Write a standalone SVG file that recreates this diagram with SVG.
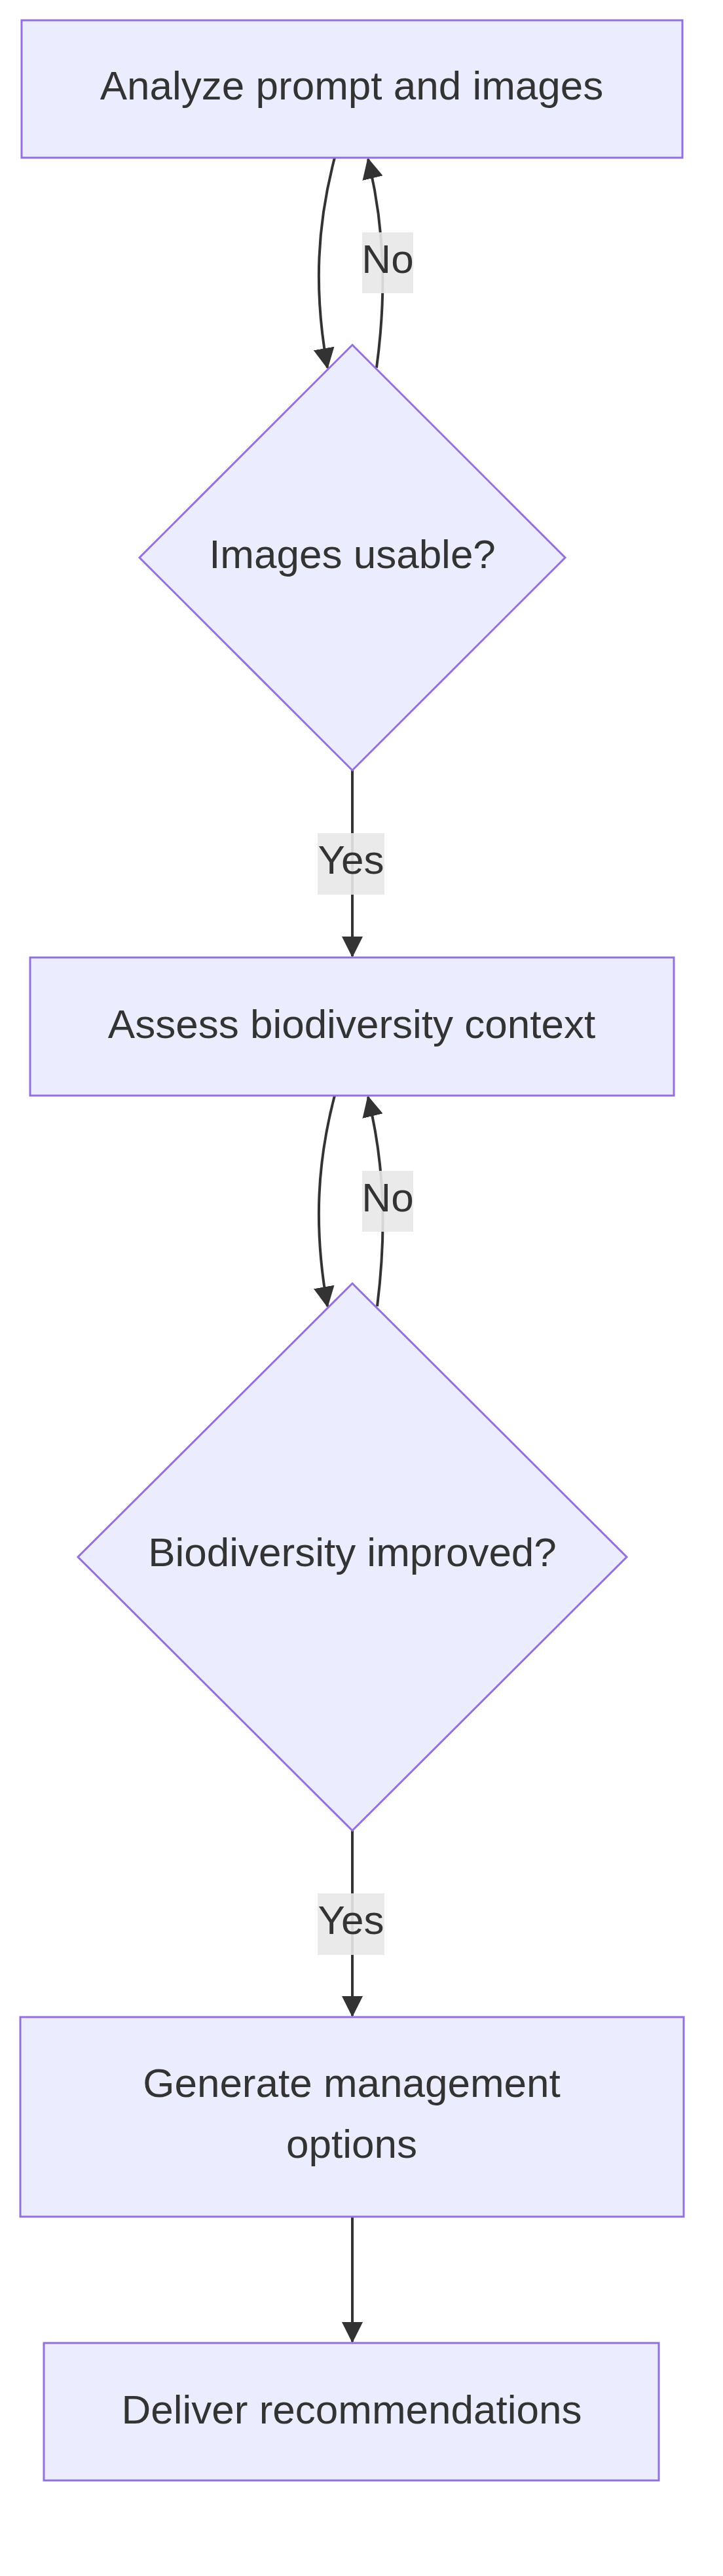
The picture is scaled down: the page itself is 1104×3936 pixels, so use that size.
<svg xmlns="http://www.w3.org/2000/svg" width="1104" height="3936" viewBox="0 0 1104 3936">
<style>
.n{fill:#ECECFF;stroke:#9370DB;stroke-width:3}
.t{font-family:"Liberation Sans",Arial,sans-serif;font-size:62px;fill:#333;text-anchor:middle}
.e{fill:none;stroke:#333;stroke-width:4}
.lb{fill:#e8e8e8;opacity:0.9}
</style>
<defs>
<marker id="ah" markerUnits="userSpaceOnUse" markerWidth="32" markerHeight="32" viewBox="0 0 32 32" refX="30" refY="16" orient="auto">
<path d="M0,0 L32,16 L0,32 Z" fill="#333"/>
</marker>
</defs>
<rect width="1104" height="3936" fill="#fff"/>
<g id="connectors">
<path class="e" d="M511,241 C485,340 478,440 500,562" marker-end="url(#ah)"/>
<path class="e" d="M575,562 C590,450 588,350 562,243" marker-end="url(#ah)"/>
<path class="e" d="M538,1177 L538,1461" marker-end="url(#ah)"/>
<path class="e" d="M511,1674 C485,1773 478,1873 500,1996" marker-end="url(#ah)"/>
<path class="e" d="M576,1996 C590,1883 588,1783 562,1676" marker-end="url(#ah)"/>
<path class="e" d="M538,2797 L538,3080" marker-end="url(#ah)"/>
<path class="e" d="M538,3387 L538,3578" marker-end="url(#ah)"/>
<g id="lbl-no1"><rect class="lb" x="553" y="355" width="78" height="93"/><text class="t" x="592" y="417">No</text></g>
<g id="lbl-yes1"><rect class="lb" x="485" y="1273" width="102" height="94"/><text class="t" x="536" y="1335">Yes</text></g>
<g id="lbl-no2"><rect class="lb" x="553" y="1789" width="78" height="93"/><text class="t" x="592" y="1851">No</text></g>
<g id="lbl-yes2"><rect class="lb" x="485" y="2893" width="102" height="94"/><text class="t" x="536" y="2955">Yes</text></g>
</g>
<g id="analyze"><rect class="n" x="33" y="31" width="1009" height="210"/><text class="t" x="537" y="152">Analyze prompt and images</text></g>
<g id="usable"><polygon class="n" points="538,527 863,852 538,1177 213,852"/><text class="t" x="538" y="868">Images usable?</text></g>
<g id="assess"><rect class="n" x="46" y="1463" width="983" height="211"/><text class="t" x="537" y="1586">Assess biodiversity context</text></g>
<g id="improved"><polygon class="n" points="538,1961 957,2379 538,2797 119,2379"/><text class="t" x="538" y="2393">Biodiversity improved?</text></g>
<g id="generate"><rect class="n" x="31" y="3082" width="1013" height="305"/><text class="t" x="537" y="3204">Generate management</text><text class="t" x="537" y="3297">options</text></g>
<g id="deliver"><rect class="n" x="67" y="3580" width="939" height="210"/><text class="t" x="537" y="3703">Deliver recommendations</text></g>
</svg>
